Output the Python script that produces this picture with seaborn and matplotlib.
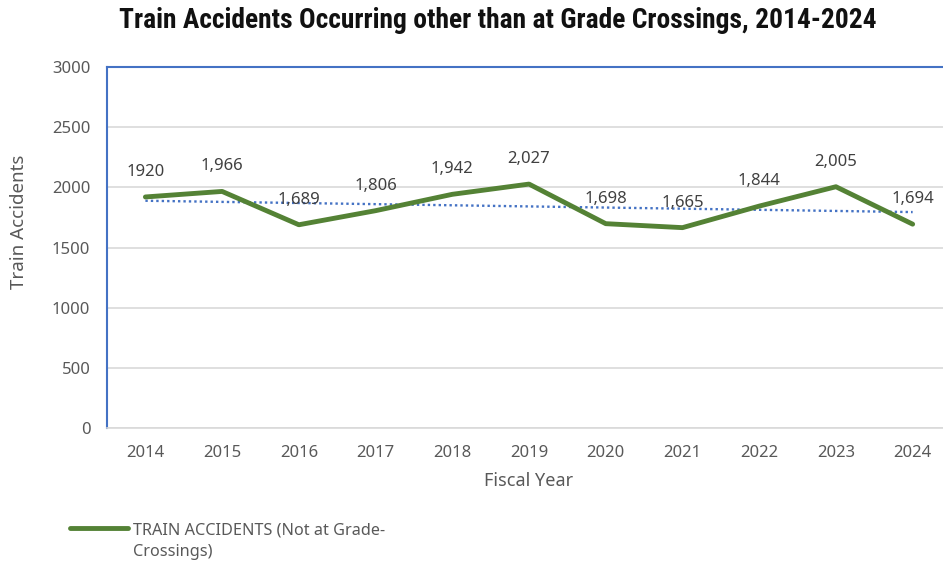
import numpy as np
import pandas as pd
import matplotlib
matplotlib.use("Agg")
import matplotlib.pyplot as plt
import seaborn as sns

# Chart data
years = [2014, 2015, 2016, 2017, 2018, 2019, 2020, 2021, 2022, 2023, 2024]
accidents = [1920, 1966, 1689, 1806, 1942, 2027, 1698, 1665, 1844, 2005, 1694]
point_labels = ["1920", "1,966", "1,689", "1,806", "1,942", "2,027",
                "1,698", "1,665", "1,844", "2,005", "1,694"]
y_ticks = [0, 500, 1000, 1500, 2000, 2500, 3000]

df = pd.DataFrame({"year": years, "accidents": accidents})

sns.set_style("white")
plt.rcParams["font.family"] = ["Noto Sans", "DejaVu Sans"]

GREEN = "#548235"
BLUE = "#4472C4"
GRAY_TXT = "#595959"

fig = plt.figure(figsize=(9.43, 5.62), dpi=100)
ax = fig.add_axes([0.1135, 0.2384, 0.895, 0.6424])

# trend line (linear fit)
sns.regplot(data=df, x="year", y="accidents", ax=ax, scatter=False, ci=None,
            line_kws={"color": BLUE, "linestyle": (0, (1, 1.3)), "linewidth": 1.7,
                      "dash_capstyle": "butt"})

# main series
sns.lineplot(data=df, x="year", y="accidents", ax=ax, color=GREEN, linewidth=3.5,
             label="TRAIN ACCIDENTS (Not at Grade-\nCrossings)", legend=False)

for x, y, lab in zip(years, accidents, point_labels):
    ax.annotate(lab, (x, y), xytext=(0, 18), textcoords="offset points",
                ha="center", va="center", fontsize=12, color="#404040")

ax.set_xlim(2013.5, 2024.5)
ax.set_ylim(0, 3000)
ax.set_xticks(years)
ax.set_yticks(y_ticks)
ax.tick_params(axis="both", length=0, labelsize=12, labelcolor=GRAY_TXT)
ax.tick_params(axis="y", pad=12)
ax.tick_params(axis="x", pad=12)
ax.yaxis.grid(True, color="#d9d9d9", linewidth=1.2)
ax.set_axisbelow(True)

for side in ["left", "top", "right"]:
    ax.spines[side].set_color(BLUE)
    ax.spines[side].set_linewidth(1.5)
ax.spines["bottom"].set_color("#d9d9d9")
ax.spines["bottom"].set_linewidth(1.2)

ax.set_xlabel("Fiscal Year", fontsize=13, color=GRAY_TXT, labelpad=8)
ax.set_ylabel("")
fig.text(19 / 943, 1 - 222 / 562, "Train Accidents", rotation=90, fontsize=13.5,
         color=GRAY_TXT, ha="center", va="center")

fig.text(0.528, 1 - 20 / 562, "Train Accidents Occurring other than at Grade Crossings, 2014-2024",
         fontsize=19.8, fontweight="bold", ha="center", va="center",
         family=["Roboto Condensed", "DejaVu Sans"], color="#111111")

handles, labels = ax.get_legend_handles_labels()
leg = fig.legend(handles, labels, loc="upper left", bbox_to_anchor=(55 / 943, 1 - 508 / 562),
                 frameon=False, fontsize=11.7, handlelength=3.6, handletextpad=0.3,
                 labelcolor=GRAY_TXT)
for t in leg.get_texts():
    t.set_linespacing(1.45)
# keep the handle level with the first line of the label
for col in leg._legend_handle_box.get_children():
    for item in col.get_children():
        item.align = "top"

fig.savefig("out.png", dpi=100)
